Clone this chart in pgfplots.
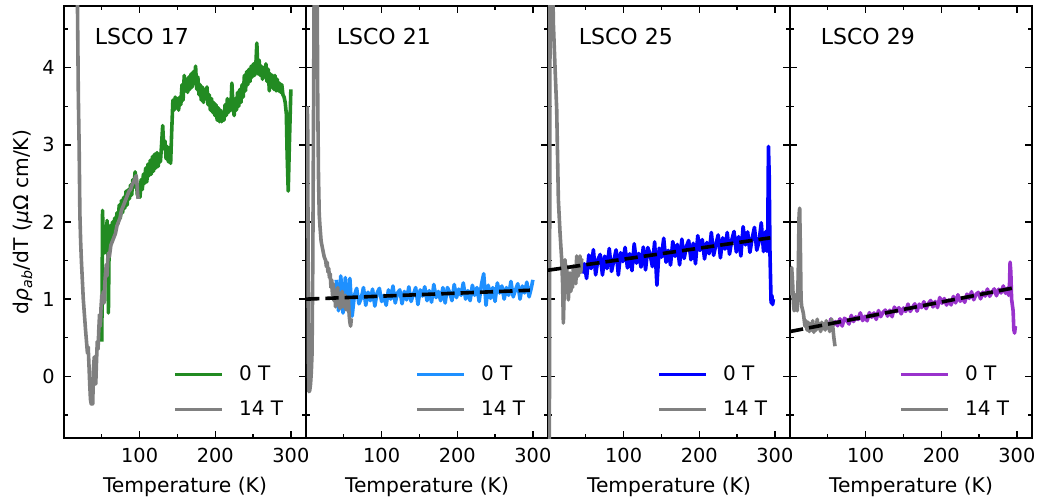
\documentclass[border=0pt]{standalone}
\usepackage{fontspec}
\setmainfont{DejaVu Sans}
\usepackage{pgfplots}
\pgfplotsset{compat=1.18}
\definecolor{cgreen}{RGB}{34,139,34}
\definecolor{cdblue}{RGB}{30,144,255}
\definecolor{cblue}{RGB}{0,0,255}
\definecolor{cpurple}{RGB}{153,50,204}
\definecolor{cgray}{RGB}{128,128,128}
\pgfplotsset{
 panel/.style={
  scale only axis, width=181.5pt, height=324pt,
  xmin=0, xmax=320, ymin=-0.8, ymax=4.8,
  xtick={100,200,300}, minor xtick={0,50,150,250},
  ytick={0,1,2,3,4}, minor ytick={-0.5,0.5,1.5,2.5,3.5,4.5},
  tick align=inside,
  major tick length=5.1pt, minor tick length=2.9pt,
  every tick/.style={black, line width=1pt},
  axis line style={line width=1.05pt},
  /pgf/number format/assume math mode=true,
  tick label style={font=\fontsize{14.5}{17}\selectfont},
  xticklabel style={anchor=center, yshift=-13.1pt},
  yticklabel style={anchor=east, inner sep=0pt, xshift=-6.75pt},
  xlabel={Temperature (K)},
  every axis x label/.style={at={(axis description cs:0.5,-0.1134)}, anchor=center, font=\fontsize{15.2}{18}\selectfont},
  legend style={draw=none, fill=none, inner sep=0pt, outer sep=0pt,
    at={(0.4517,0.1667)}, anchor=north west, row sep=13.75pt,
    font=\fontsize{15}{18}\selectfont, cells={anchor=west}, nodes={inner sep=0pt},
    /tikz/every odd column/.append style={column sep=11.4pt}},
  legend image code/.code={\draw[#1,line width=2.7pt] (0pt,0pt) -- (35.2pt,0pt);},
  every axis plot/.append style={line width=2.7pt, line join=round},
 },
 fit/.style={black, dash pattern=on 10pt off 4.5pt, forget plot},
}
\newcommand{\lab}[1]{\node[anchor=west, inner sep=0pt, font=\fontsize{16.5}{19}\selectfont] at (axis cs:40.5,4.40) {#1};}
\begin{document}
\begin{tikzpicture}
\path[use as bounding box] (-48pt,-46.5pt) rectangle (732.75pt,328.5pt);
% ---------------- Panel 1: LSCO 17
\begin{axis}[panel, at={(0pt,0pt)},
  ylabel={d\textit{ρ}\textsubscript{\textit{ab}}/dT (\textit{μ}Ω cm/K)},
  every axis y label/.style={at={(axis description cs:-0.1715,0.5)}, rotate=90, anchor=center, font=\fontsize{15.2}{18}\selectfont}]
\addplot[cgreen] coordinates {
(50,0.45) (50.5,1.3) (51,2.15) (52,1.65) (53,1.95) (54,1.6) (55,1.9) (56,1.75) (57,2.02) (58,1.7) (58.7,0.82) (59.5,1.55)
(61,1.95) (62.5,1.75) (64,2.0) (65.5,1.85) (67,2.05) (68.5,1.9) (70,2.12) (71.5,1.98) (73,2.22) (74.5,2.05) (76,2.28)
(77.5,2.12) (79,2.32) (80.5,2.18) (82,2.4) (83.5,2.22) (85,2.42) (86.5,2.3) (88,2.48) (89.5,2.35) (91,2.55) (92.5,2.45)
(94,2.65) (95.5,2.55) (97,2.35) (98,2.4)
(99,2.45) (100.5,2.32) (102,2.55) (103.5,2.42) (105,2.62) (106.5,2.5) (108,2.7) (109.5,2.52) (111,2.75) (112.5,2.6)
(114,2.8) (115.5,2.62) (117,2.85) (118.5,2.66) (120,2.88) (121.5,2.7) (123,2.9) (124.5,2.72) (126,2.88) (127.5,2.78)
(129,3.0) (130.5,3.25) (132,2.95) (133.5,3.05) (135,2.82) (136.5,2.98) (138,2.78) (139.5,2.9) (141,2.76) (142.5,3.2)
(144,3.58) (145.5,3.45) (147,3.62) (148.5,3.48) (150,3.6) (151.5,3.45) (153,3.62) (154.5,3.52) (156,3.78) (157.5,3.58)
(159,3.9) (160.5,3.7) (162,3.85) (163.5,3.68) (165,3.88) (166.5,3.72) (168,3.92) (169.5,3.75) (171,3.95) (172.5,3.8)
(174,4.02) (175.5,3.72) (177,3.88) (178.5,3.65) (180,3.78) (181.5,3.58) (183,3.75) (184.5,3.55) (186,3.72) (187.5,3.6)
(189,3.75) (190.5,3.52) (192,3.65) (193.5,3.45) (195,3.6) (196.5,3.42) (198,3.55) (199.5,3.38) (201,3.52) (202.5,3.32)
(204,3.48) (205.5,3.3) (207,3.45) (208.5,3.3) (210,3.42) (211.5,3.32) (213,3.52) (214.5,3.38) (216,3.6) (217.5,3.42)
(219,3.58) (220.5,3.45) (222,3.8) (223.5,3.5) (225,3.38) (226.5,3.6) (228,3.45) (229.5,3.68) (231,3.5) (232.5,3.72)
(234,3.55) (235.5,3.78) (237,3.62) (238.5,3.9) (240,3.7) (241.5,3.95) (243,3.78) (244.5,3.98) (246,3.82) (247.5,4.02)
(249,3.88) (250.5,4.05) (252,3.9) (253.5,4.0) (255,4.32) (256.5,3.92) (258,4.1) (259.5,3.9) (261,4.02) (262.5,3.85)
(264,4.0) (265.5,3.88) (267,4.05) (268.5,3.82) (270,3.98) (271.5,3.7) (273,3.92) (274.5,3.75) (276,3.9) (277.5,3.72)
(279,3.9) (280.5,3.7) (282,3.85) (283.5,3.7) (285,3.8) (286.5,3.68) (288,3.78) (289.5,3.65) (291,3.62) (292.5,3.55)
(294,3.4) (295,2.9) (296.5,2.4) (298,3.0) (300,3.72)
};
\addlegendentry{0 T}
\addplot[cgray] coordinates {
(16,7) (18,4.6) (19,3.6) (20,3.0) (21,2.1) (22,1.75) (23,1.5) (24.5,1.2) (25.5,1.0) (27,0.8) (28.5,0.6) (30,0.42)
(31,0.3) (32,0.38) (33,0.15) (34,-0.1) (35,-0.3) (36,-0.36) (37,-0.32) (38,-0.36) (39,0.1) (40,0.25) (41,0.05) (42,-0.1)
(43,0.2) (44,0.45) (45,0.35) (46,0.6) (47,0.8) (48,0.65) (49,0.9) (50,1.05) (51,0.95) (52,1.1) (53,0.95) (54,1.2)
(55,1.35) (56,1.45) (57,1.3) (58,1.55) (59,1.6) (60,1.55) (62,1.7) (64,1.75) (66,1.8) (68,1.85) (70,1.95) (72,2.0)
(74,2.05) (76,2.15) (78,2.2) (80,2.25) (82,2.3) (84,2.35) (86,2.4) (88,2.42) (90,2.48) (92,2.52) (94,2.57) (95.5,2.6)
(96.5,2.5) (97.5,2.35) (98,2.3)
};
\addlegendentry{14 T}
\lab{LSCO 17}
\end{axis}
% ---------------- Panel 2: LSCO 21
\begin{axis}[panel, at={(181.5pt,0pt)}, yticklabels={}]
\addplot[cdblue] coordinates {
(40,1.25) (43,0.85) (46,1.30) (49,0.82) (52,1.28) (55,0.86) (58,1.27) (61,0.78) (64,1.05) (67,1.14) (70,0.94) (73,1.01)
(76,1.15) (79,0.92) (82,1.09) (85,0.98) (88,1.13) (91,0.91) (94,1.08) (97,1.14) (100,0.97) (103,1.05) (106,0.92) (109,1.12)
(112,1.00) (115,1.17) (118,0.95) (121,1.08) (124,1.12) (127,0.94) (130,1.10) (133,0.99) (136,1.16) (139,0.97) (142,1.06)
(145,1.15) (148,0.93) (151,1.12) (154,1.04) (157,1.16) (160,0.98) (163,1.11) (166,0.96) (169,1.19) (172,1.02) (175,1.10)
(178,0.98) (181,1.15) (184,0.95) (187,1.15) (190,1.09) (193,0.98) (196,1.19) (199,1.02) (202,1.13) (205,1.05) (208,1.21)
(211,1.00) (214,1.11) (217,0.98) (220,1.18) (223,1.05) (226,1.15) (229,0.97) (232,1.19) (235,1.33) (238,0.92) (241,1.18)
(244,1.01) (247,1.15) (250,0.97) (253,1.21) (256,1.08) (259,1.17) (262,1.00) (265,1.15) (268,1.05) (271,1.23) (274,1.03)
(277,1.12) (280,1.20) (283,1.00) (286,1.17) (289,1.08) (292,1.22) (295,1.03) (298,1.15) (300,1.25)
};
\addlegendentry{0 T}
\addplot[cgray] coordinates {
(1.5,3.5) (2.2,3.33) (2.8,1.5) (3.3,0.2) (4,-0.2) (5,-0.18) (6,-0.1) (7,0.05) (8,0.3) (9,1.5) (10,3.5) (11,5.5) (12,7)
(13.5,7) (14.5,5.5) (15.5,3.6) (16.5,2.6) (17.5,2.1) (18.5,1.94) (20,1.75) (22,1.65) (24,1.55) (26,1.5) (27,1.42) (28,1.48)
(29,1.35) (30,1.4) (31,1.28) (32,1.33) (33,1.15) (34,1.25) (35,1.05) (36,1.2) (37,0.98) (38,1.12) (39,0.9) (40,1.05)
(41,0.95) (42,1.15) (43,0.92) (44,1.08) (45,0.88) (46,1.02) (47,0.95) (48,1.1) (49,0.9) (50,1.0) (51,0.92) (52,1.05)
(53,0.86) (54,0.98) (55,0.9) (56,1.02) (57,0.8) (58,0.7) (59,0.65) (60,0.75)
};
\addlegendentry{14 T}
\addplot[fit] coordinates {(0,1.0) (296,1.115)};
\lab{LSCO 21}
\end{axis}
% ---------------- Panel 3: LSCO 25
\begin{axis}[panel, at={(363pt,0pt)}, yticklabels={}]
\addplot[cblue] coordinates {
(45,1.334) (48,1.459) (51,1.268) (54,1.572) (57,1.397) (60,1.641) (63,1.315) (66,1.514) (69,1.579) (72,1.313) (75,1.557)
(78,1.397) (81,1.656) (84,1.36) (87,1.499) (90,1.639) (93,1.313) (96,1.602) (99,1.487) (102,1.671) (105,1.405) (108,1.589)
(111,1.369) (114,1.718) (117,1.467) (120,1.592) (123,1.416) (126,1.675) (129,1.379) (132,1.669) (135,1.583) (138,1.422)
(141,1.742) (144,1.18) (147,1.66) (150,1.544) (153,1.789) (156,1.478) (159,1.632) (162,1.442) (165,1.746) (168,1.555)
(171,1.709) (174,1.444) (177,1.778) (180,1.527) (183,1.682) (186,1.761) (189,1.51) (192,1.724) (195,1.459) (198,1.823)
(201,1.632) (204,1.772) (207,1.521) (210,1.735) (213,1.589) (216,1.864) (219,1.568) (222,1.707) (225,1.832) (228,1.536)
(231,1.795) (234,1.649) (237,1.864) (240,1.583) (243,1.767) (246,1.877) (249,1.611) (252,1.81) (255,1.559) (258,1.939)
(261,1.703) (264,1.872) (267,1.607) (270,1.791) (273,1.93) (276,1.634) (279,1.744) (282,1.99) (285,1.617) (288,1.877)
(289.5,1.62) (290.5,1.75) (291.5,2.98) (292.5,2.6) (293.5,1.6) (295,0.95) (296,1.05) (297,0.93) (298,1.0)
};
\addlegendentry{0 T}
\addplot[cgray] coordinates {
(1.5,-3) (3,7) (5.5,6) (7,4.6) (9.3,4.0) (11.5,3.46) (13.7,2.29) (15.9,1.86) (18.1,1.51) (19.3,1.2) (20.3,0.69) (21.4,1.1)
(22.5,1.51) (23.6,1.3) (24.7,1.43) (25.8,1.2) (26.9,0.99) (28,1.2) (29.1,1.34) (30.2,1.1) (31.3,1.21) (32.4,1.15)
(33.5,1.43) (34.6,1.25) (35.7,1.3) (36.8,1.2) (37.9,1.56) (39,1.4) (40.1,1.3) (41.2,1.45) (42.3,1.56) (43.4,1.35)
(44.5,1.51) (45.5,1.5)
};
\addlegendentry{14 T}
\addplot[fit] coordinates {(0,1.375) (294,1.795)};
\lab{LSCO 25}
\end{axis}
% ---------------- Panel 4: LSCO 29
\begin{axis}[panel, at={(544.5pt,0pt)}, yticklabels={}]
\addplot[cpurple] coordinates {
(45,0.626) (48,0.691) (51,0.622) (54,0.743) (57,0.663) (60,0.709) (63,0.655) (66,0.745) (69,0.651) (72,0.752) (75,0.728)
(78,0.678) (81,0.789) (84,0.71) (87,0.77) (90,0.736) (93,0.822) (96,0.722) (99,0.778) (102,0.719) (105,0.825) (108,0.765)
(111,0.821) (114,0.737) (117,0.852) (120,0.773) (123,0.829) (126,0.859) (129,0.78) (132,0.856) (135,0.772) (138,0.897)
(141,0.838) (144,0.889) (147,0.809) (150,0.885) (153,0.841) (156,0.936) (159,0.842) (162,0.893) (165,0.939) (168,0.844)
(171,0.935) (174,0.891) (177,0.966) (180,0.877) (183,0.943) (186,0.983) (189,0.899) (192,0.97) (195,0.891) (198,1.021)
(201,0.947) (204,1.008) (207,0.923) (210,0.989) (213,0.925) (216,1.035) (219,0.951) (222,1.057) (225,0.973) (228,1.018)
(231,0.959) (234,1.065) (237,1.01) (240,1.096) (243,0.992) (246,1.062) (249,1.088) (252,1.004) (255,1.09) (258,1.04)
(261,1.131) (264,1.037) (267,1.087) (270,1.133) (273,1.044) (276,1.129) (279,1.08) (282,1.171) (285,1.076) (288,1.147)
(289,1.05) (290,1.1) (291,1.48) (292,1.35) (293,1.0) (295,0.85) (296,0.6) (297,0.56) (298,0.65)
};
\addlegendentry{0 T}
\addplot[cgray] coordinates {
(1.5,1.05) (2.2,1.41) (3.5,1.2) (4.5,0.95) (5.5,0.85) (6.6,0.87) (8,1.06) (9.5,0.85) (10.8,1.3) (12,2.1) (12.8,2.18)
(13.8,1.6) (14.6,1.0) (15.4,0.91) (17.6,0.82) (19.8,0.65) (21,0.72) (22.5,0.6) (24,0.7) (25.5,0.58) (27,0.68) (28.5,0.6)
(30,0.72) (31.5,0.57) (33,0.66) (34.5,0.6) (36,0.74) (37.5,0.62) (39,0.68) (40.5,0.58) (42,0.7) (43.5,0.62) (45,0.68)
(46.5,0.6) (48,0.72) (49.5,0.63) (51,0.67) (52.5,0.58) (54,0.7) (55,0.74) (56.5,0.65) (58,0.5) (59.5,0.39)
};
\addlegendentry{14 T}
\addplot[fit] coordinates {(0,0.58) (298,1.15)};
\lab{LSCO 29}
\end{axis}
\end{tikzpicture}
\end{document}
